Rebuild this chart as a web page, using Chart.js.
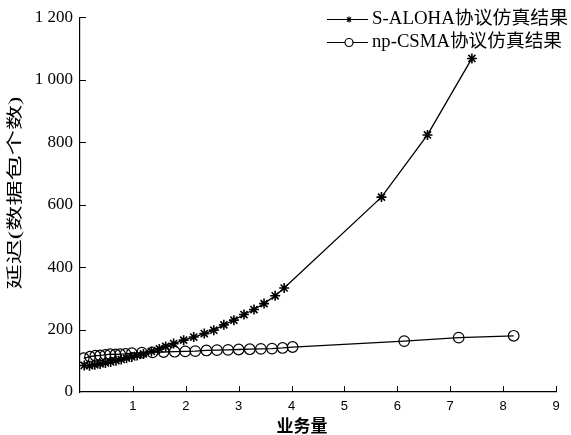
<!DOCTYPE html>
<html>
<head>
<meta charset="utf-8">
<script src="https://cdn.jsdelivr.net/npm/chart.js@4.4.1/dist/chart.umd.min.js"></script>
<style>
  html, body { margin: 0; padding: 0; background: #fff; }
  #wrap { width: 571px; height: 435px; }
</style>
</head>
<body>
<div id="wrap"><canvas id="myChart" width="571" height="435"></canvas></div>
<script>
// data
const alohaX = [0.08, 0.18, 0.28, 0.38, 0.48, 0.58, 0.68, 0.78, 0.88, 0.98, 1.08, 1.2, 1.35, 1.5, 1.62,
  1.77, 1.96, 2.15, 2.35, 2.53, 2.72, 2.91, 3.10, 3.29, 3.48, 3.69, 3.86, 5.70, 6.57, 7.41];
const alohaY = [85, 84, 87, 90, 93, 96, 100, 104, 108, 112, 117, 122, 130, 138, 146,
  155, 166, 176, 187, 198, 215, 230, 248, 264, 283, 308, 333, 624, 823, 1068];

const csmaX = [0.07, 0.19, 0.29, 0.38, 0.48, 0.57, 0.67, 0.76, 0.86, 0.98, 1.17, 1.37, 1.58, 1.79,
  1.99, 2.18, 2.39, 2.59, 2.80, 3.00, 3.21, 3.42, 3.63, 3.83, 4.02, 6.13, 7.16, 8.20];
const csmaY = [108, 113, 116, 117, 119, 121, 120, 121, 122, 124, 126, 127, 128, 129,
  130, 131, 133, 134, 135, 136, 137, 138, 139, 141, 144, 163, 174, 180];

const seriesNames = ["S-ALOHA协议仿真结果", "np-CSMA协议仿真结果"];
const xTitle = "业务量";
const yTitle = "延迟(数据包个数)";

const serif = '"Liberation Serif", "Noto Sans CJK SC"';
const sans = '"Liberation Sans", Arial, sans-serif';

function pairs(xs, ys) {
  return xs.map((x, i) => ({ x: x, y: ys[i] }));
}

// inward ticks, titles and the legend
const extras = {
  id: "extras",
  afterDraw(chart) {
    const ctx = chart.ctx;
    const xs = chart.scales.x;
    const ys = chart.scales.y;
    const area = chart.chartArea;
    ctx.save();
    ctx.strokeStyle = "#000";
    ctx.lineWidth = 1;
    xs.ticks.forEach(t => {
      if (t.value === 0) return;
      const px = Math.round(xs.getPixelForValue(t.value)) + 0.5;
      ctx.beginPath();
      ctx.moveTo(px, area.bottom);
      ctx.lineTo(px, area.bottom - 6);
      ctx.stroke();
    });
    ys.ticks.forEach(t => {
      if (t.value === 0) return;
      const py = Math.round(ys.getPixelForValue(t.value)) + 0.5;
      ctx.beginPath();
      ctx.moveTo(area.left, py);
      ctx.lineTo(area.left + 6, py);
      ctx.stroke();
    });

    // x title
    ctx.fillStyle = "#000";
    ctx.font = 'bold 17px "Noto Sans CJK SC"';
    ctx.textAlign = "center";
    ctx.textBaseline = "middle";
    ctx.fillText(xTitle, 302, 426);

    // y title, stretched along the text
    ctx.save();
    ctx.font = '16px ' + serif;
    const w = ctx.measureText(yTitle).width;
    ctx.translate(16, 193);
    ctx.rotate(-Math.PI / 2);
    ctx.scale(193 / w, 1);
    ctx.fillText(yTitle, 0, 0);
    ctx.restore();

    // legend
    const rows = [19, 42];
    chart.data.datasets.forEach((ds, i) => {
      const y = rows[i] + 0.5;
      ctx.strokeStyle = "#000";
      ctx.lineWidth = 1.2;
      ctx.beginPath();
      ctx.moveTo(327, y);
      ctx.lineTo(368, y);
      ctx.stroke();
      ctx.fillStyle = i === 0 ? "#000" : "#fff";
      Chart.helpers.drawPoint(ctx, {
        pointStyle: ds.pointStyle,
        radius: i === 0 ? 3 : 4,
        borderWidth: 1.2
      }, 349, y);
      ctx.fillStyle = "#000";
      ctx.font = '18px ' + serif;
      ctx.textAlign = "left";
      ctx.save();
      const tw = ctx.measureText(ds.label).width;
      ctx.translate(372, rows[i]);
      ctx.scale((i === 0 ? 196 : 190) / tw, 1);
      ctx.fillText(ds.label, 0, 0);
      ctx.restore();
    });
    ctx.restore();
  }
};

const ctx = document.getElementById("myChart").getContext("2d");
const chart = new Chart(ctx, {
  type: "line",
  data: {
    datasets: [{
      label: seriesNames[0],
      data: pairs(alohaX, alohaY),
      borderColor: "#000",
      borderWidth: 1.3,
      pointStyle: "star",
      pointRadius: 5,
      pointBorderWidth: 1.6,
      pointBorderColor: "#000",
      pointBackgroundColor: "#000",
      tension: 0
    }, {
      label: seriesNames[1],
      data: pairs(csmaX, csmaY),
      borderColor: "#000",
      borderWidth: 1.3,
      pointStyle: "circle",
      pointRadius: 5.3,
      pointBorderWidth: 1.2,
      pointBorderColor: "#000",
      pointBackgroundColor: "rgba(0,0,0,0)",
      tension: 0
    }]
  },
  options: {
    responsive: false,
    animation: false,
    layout: { padding: { top: 17, right: 15, left: 0, bottom: 0 } },
    plugins: {
      legend: { display: false },
      tooltip: { enabled: false }
    },
    scales: {
      x: {
        type: "linear",
        min: 0,
        max: 9,
        afterFit(scale) { scale.height = 43; },
        grid: { display: false, drawTicks: false },
        border: { display: true, color: "#000", width: 1.2 },
        ticks: {
          stepSize: 1,
          padding: 7,
          color: "#000",
          font: { family: sans, size: 13 },
          maxRotation: 0,
          callback: v => (v === 0 ? "" : v)
        }
      },
      y: {
        min: 0,
        max: 1200,
        afterFit(scale) { scale.width = 80; },
        grid: { display: false, drawTicks: false },
        border: { display: true, color: "#000", width: 1.2 },
        ticks: {
          stepSize: 200,
          padding: 7,
          color: "#000",
          font: { family: serif, size: 17 },
          callback: v => (v >= 1000 ? Math.floor(v / 1000) + " " + String(v % 1000).padStart(3, "0") : v)
        }
      }
    }
  },
  plugins: [extras]
});
</script>
</body>
</html>
